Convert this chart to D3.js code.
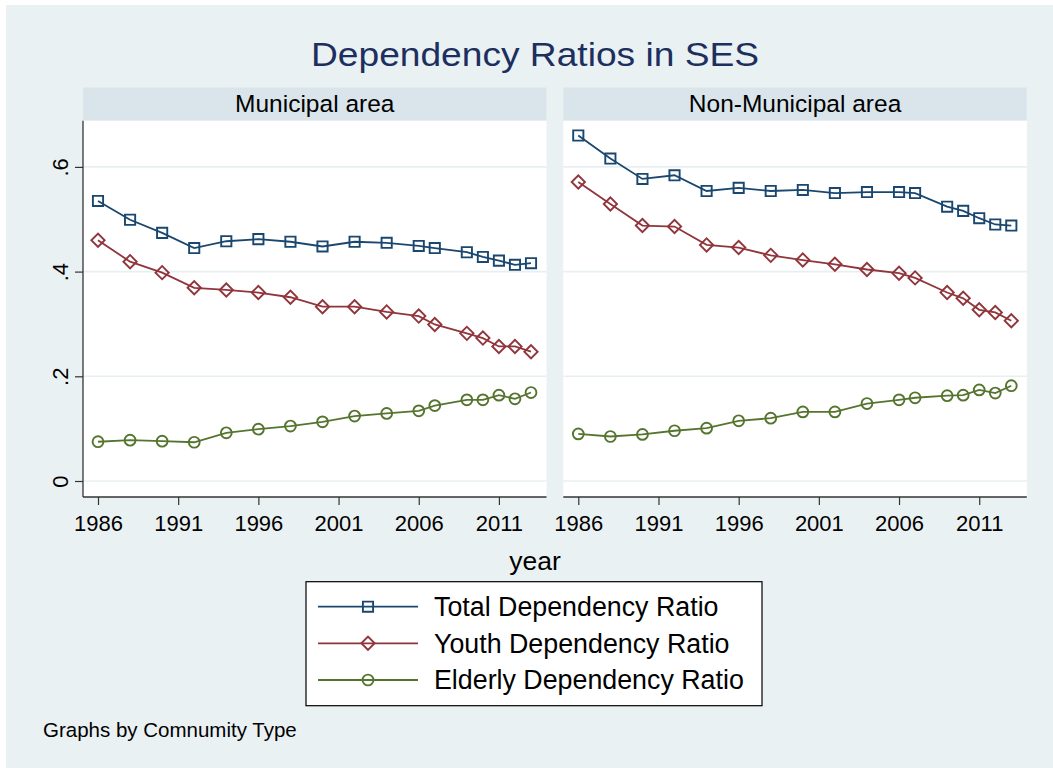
<!DOCTYPE html>
<html>
<head>
<meta charset="utf-8">
<script src="https://cdn.jsdelivr.net/npm/d3@7"></script>
<style>
  body { margin: 0; background: #fff; }
  text { font-family: "Liberation Sans", Arial, sans-serif; }
</style>
</head>
<body>
<div id="chart"></div>
<script>
// data
const years = [1986, 1988, 1990, 1992, 1994, 1996, 1998, 2000, 2002, 2004, 2006, 2007, 2009, 2010, 2011, 2012, 2013];

const municipalTotal   = [0.535, 0.499, 0.474, 0.445, 0.458, 0.462, 0.457, 0.448, 0.457, 0.455, 0.449, 0.445, 0.437, 0.428, 0.421, 0.413, 0.416];
const municipalYouth   = [0.460, 0.419, 0.398, 0.369, 0.365, 0.360, 0.351, 0.333, 0.333, 0.323, 0.315, 0.299, 0.282, 0.273, 0.257, 0.257, 0.247];
const municipalElderly = [0.075, 0.078, 0.076, 0.074, 0.092, 0.099, 0.105, 0.113, 0.124, 0.129, 0.134, 0.144, 0.155, 0.155, 0.164, 0.157, 0.169];

const nonMunicipalTotal   = [0.660, 0.616, 0.577, 0.584, 0.554, 0.560, 0.554, 0.556, 0.550, 0.552, 0.552, 0.550, 0.524, 0.516, 0.502, 0.490, 0.488];
const nonMunicipalYouth   = [0.571, 0.529, 0.488, 0.486, 0.451, 0.446, 0.431, 0.422, 0.414, 0.404, 0.397, 0.388, 0.360, 0.349, 0.327, 0.322, 0.306];
const nonMunicipalElderly = [0.090, 0.085, 0.089, 0.096, 0.101, 0.115, 0.120, 0.132, 0.132, 0.148, 0.155, 0.159, 0.163, 0.164, 0.174, 0.168, 0.182];

const panelNames = ["Municipal area", "Non-Municipal area"];
const seriesNames = ["Total Dependency Ratio", "Youth Dependency Ratio", "Elderly Dependency Ratio"];
const xTicks = [1986, 1991, 1996, 2001, 2006, 2011];
const yTicks = [0, 0.2, 0.4, 0.6];
const yTickLabels = ["0", ".2", ".4", ".6"];

const panelSeries = [
  [municipalTotal, municipalYouth, municipalElderly],
  [nonMunicipalTotal, nonMunicipalYouth, nonMunicipalElderly]
];

const colors = ["#1a476f", "#90353b", "#55752f"];
const symbols = [
  d3.symbol().type(d3.symbolSquare).size(104),
  d3.symbol().type(d3.symbolSquare).size(88),   // rotated -> diamond
  d3.symbol().type(d3.symbolCircle).size(92)
];
const rotations = [0, 45, 0];

const width = 1053;
const height = 768;

const svg = d3.select("#chart")
  .append("svg")
  .attr("width", width)
  .attr("height", height);

svg.append("rect")
  .attr("x", 6).attr("y", 5)
  .attr("width", width - 6).attr("height", height - 5)
  .attr("fill", "#eaf1f3");

// title
svg.append("text")
  .attr("x", 535).attr("y", 66)
  .attr("text-anchor", "middle")
  .attr("font-size", 34)
  .attr("textLength", 448)
  .attr("lengthAdjust", "spacingAndGlyphs")
  .attr("fill", "#1c2f5e")
  .text("Dependency Ratios in SES");

const panelX = [83, 563.3];
const panelW = 463.5;
const stripTop = 87.5;
const plotTop = 120.7;
const plotBottom = 497;

const y = d3.scaleLinear().domain([0, 0.6]).range([481, 166.9]);

panelNames.forEach((name, p) => {
  const x0 = panelX[p];
  const x = d3.scaleLinear().domain([1986, 2013]).range([x0 + 15, x0 + 448]);
  const g = svg.append("g");

  g.append("rect")
    .attr("x", x0).attr("y", stripTop)
    .attr("width", panelW).attr("height", plotTop - stripTop)
    .attr("fill", "#d9e5eb");

  g.append("text")
    .attr("x", x0 + panelW / 2).attr("y", 111.7)
    .attr("text-anchor", "middle")
    .attr("font-size", 24.5)
    .attr("fill", "#000")
    .text(name);

  g.append("rect")
    .attr("x", x0).attr("y", plotTop)
    .attr("width", panelW).attr("height", plotBottom - plotTop)
    .attr("fill", "#fff");

  g.selectAll(".grid")
    .data(yTicks)
    .join("line")
    .attr("class", "grid")
    .attr("x1", x0).attr("x2", x0 + panelW)
    .attr("y1", d => y(d)).attr("y2", d => y(d))
    .attr("stroke", "#e8eff2")
    .attr("stroke-width", 1.6);

  // x axis
  const xAxis = g.append("g")
    .attr("transform", `translate(0,${plotBottom})`)
    .call(d3.axisBottom(x).tickValues(xTicks).tickFormat(d3.format("d")).tickSize(8).tickPadding(10));
  xAxis.select(".domain").remove();
  xAxis.selectAll(".tick line").attr("stroke", "#333").attr("stroke-width", 1.2);
  xAxis.selectAll("text")
    .attr("font-size", 22)
    .attr("font-family", "Liberation Sans, Arial, sans-serif")
    .attr("fill", "#000");
  g.append("line")
    .attr("x1", x0).attr("x2", x0 + panelW)
    .attr("y1", plotBottom).attr("y2", plotBottom)
    .attr("stroke", "#333").attr("stroke-width", 1.3);

  // y axis only on the first panel
  if (p === 0) {
    const yAxis = g.append("g")
      .attr("transform", `translate(${x0},0)`)
      .call(d3.axisLeft(y).tickValues(yTicks).tickFormat((d, i) => yTickLabels[i]).tickSize(8));
    yAxis.select(".domain").remove();
    yAxis.selectAll(".tick line").attr("stroke", "#333").attr("stroke-width", 1.2);
    yAxis.selectAll("text")
      .attr("x", 0).attr("y", -15).attr("dy", 0)
      .attr("text-anchor", "middle")
      .attr("transform", "rotate(-90)")
      .attr("font-size", 22)
      .attr("font-family", "Liberation Sans, Arial, sans-serif")
      .attr("fill", "#000");
    g.append("line")
      .attr("x1", x0).attr("x2", x0)
      .attr("y1", plotTop).attr("y2", plotBottom)
      .attr("stroke", "#333").attr("stroke-width", 1.3);
  }

  // series
  panelSeries[p].forEach((values, s) => {
    const pts = years.map((yr, i) => ({ year: yr, value: values[i] }));
    const line = d3.line().x(d => x(d.year)).y(d => y(d.value));

    g.append("path")
      .datum(pts)
      .attr("d", line)
      .attr("fill", "none")
      .attr("stroke", colors[s])
      .attr("stroke-width", 1.8);

    g.selectAll(".mk" + s)
      .data(pts)
      .join("path")
      .attr("class", "mk" + s)
      .attr("d", symbols[s])
      .attr("transform", d => `translate(${x(d.year)},${y(d.value)}) rotate(${rotations[s]})`)
      .attr("fill", "none")
      .attr("stroke", colors[s])
      .attr("stroke-width", 1.9);
  });
});

// x axis title
svg.append("text")
  .attr("x", 535).attr("y", 570)
  .attr("text-anchor", "middle")
  .attr("font-size", 26.5)
  .text("year");

// legend
const legend = svg.append("g");
legend.append("rect")
  .attr("x", 306).attr("y", 581.7)
  .attr("width", 456).attr("height", 124)
  .attr("fill", "#fff")
  .attr("stroke", "#000")
  .attr("stroke-width", 1.2);

const rowY = [606.7, 643.3, 680];
seriesNames.forEach((name, s) => {
  legend.append("line")
    .attr("x1", 318).attr("x2", 418)
    .attr("y1", rowY[s]).attr("y2", rowY[s])
    .attr("stroke", colors[s]).attr("stroke-width", 1.8);
  legend.append("path")
    .attr("d", symbols[s])
    .attr("transform", `translate(368,${rowY[s]}) rotate(${rotations[s]})`)
    .attr("fill", "none")
    .attr("stroke", colors[s])
    .attr("stroke-width", 1.9);
  legend.append("text")
    .attr("x", 434).attr("y", rowY[s])
    .attr("dy", "0.35em")
    .attr("font-size", 26.8)
    .text(name);
});

// note
svg.append("text")
  .attr("x", 43).attr("y", 737)
  .attr("font-size", 20.5)
  .text("Graphs by Comnumity Type");
</script>
</body>
</html>
